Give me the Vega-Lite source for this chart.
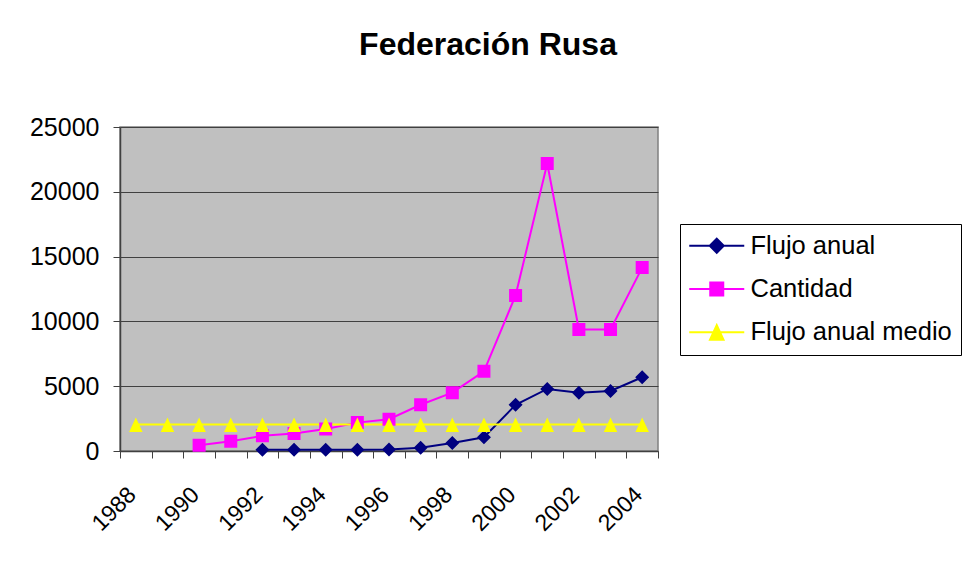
{
  "$schema": "https://vega.github.io/schema/vega-lite/v6.json",
  "width": 538,
  "height": 324,
  "autosize": "none",
  "padding": {"left": 120, "top": 127, "right": 312, "bottom": 115},
  "background": "white",
  "title": {"text": "Federación Rusa", "fontSize": 32, "font": "Liberation Sans", "fontWeight": "bold", "color": "black", "anchor": "middle", "dx": 99, "offset": 53},
  "data": {"values": [
    {"year": 1992, "serie": "Flujo anual", "value": 100},
    {"year": 1993, "serie": "Flujo anual", "value": 100},
    {"year": 1994, "serie": "Flujo anual", "value": 100},
    {"year": 1995, "serie": "Flujo anual", "value": 100},
    {"year": 1996, "serie": "Flujo anual", "value": 120},
    {"year": 1997, "serie": "Flujo anual", "value": 260},
    {"year": 1998, "serie": "Flujo anual", "value": 625},
    {"year": 1999, "serie": "Flujo anual", "value": 1060},
    {"year": 2000, "serie": "Flujo anual", "value": 3560},
    {"year": 2001, "serie": "Flujo anual", "value": 4790},
    {"year": 2002, "serie": "Flujo anual", "value": 4490},
    {"year": 2003, "serie": "Flujo anual", "value": 4630},
    {"year": 2004, "serie": "Flujo anual", "value": 5690},
    {"year": 1990, "serie": "Cantidad", "value": 443},
    {"year": 1991, "serie": "Cantidad", "value": 755},
    {"year": 1992, "serie": "Cantidad", "value": 1170},
    {"year": 1993, "serie": "Cantidad", "value": 1354},
    {"year": 1994, "serie": "Cantidad", "value": 1690},
    {"year": 1995, "serie": "Cantidad", "value": 2190},
    {"year": 1996, "serie": "Cantidad", "value": 2450},
    {"year": 1997, "serie": "Cantidad", "value": 3570},
    {"year": 1998, "serie": "Cantidad", "value": 4500},
    {"year": 1999, "serie": "Cantidad", "value": 6150},
    {"year": 2000, "serie": "Cantidad", "value": 12000},
    {"year": 2001, "serie": "Cantidad", "value": 22180},
    {"year": 2002, "serie": "Cantidad", "value": 9380},
    {"year": 2003, "serie": "Cantidad", "value": 9380},
    {"year": 2004, "serie": "Cantidad", "value": 14150},
    {"year": 1988, "serie": "Flujo anual medio", "value": 2050},
    {"year": 1989, "serie": "Flujo anual medio", "value": 2050},
    {"year": 1990, "serie": "Flujo anual medio", "value": 2050},
    {"year": 1991, "serie": "Flujo anual medio", "value": 2050},
    {"year": 1992, "serie": "Flujo anual medio", "value": 2050},
    {"year": 1993, "serie": "Flujo anual medio", "value": 2050},
    {"year": 1994, "serie": "Flujo anual medio", "value": 2050},
    {"year": 1995, "serie": "Flujo anual medio", "value": 2050},
    {"year": 1996, "serie": "Flujo anual medio", "value": 2050},
    {"year": 1997, "serie": "Flujo anual medio", "value": 2050},
    {"year": 1998, "serie": "Flujo anual medio", "value": 2050},
    {"year": 1999, "serie": "Flujo anual medio", "value": 2050},
    {"year": 2000, "serie": "Flujo anual medio", "value": 2050},
    {"year": 2001, "serie": "Flujo anual medio", "value": 2050},
    {"year": 2002, "serie": "Flujo anual medio", "value": 2050},
    {"year": 2003, "serie": "Flujo anual medio", "value": 2050},
    {"year": 2004, "serie": "Flujo anual medio", "value": 2050}
  ]},
  "layer": [
    {
      "mark": {"type": "line", "strokeWidth": 2},
      "encoding": {
        "x": {"field": "year", "type": "quantitative",
          "scale": {"domain": [1987.5, 2004.5], "nice": false, "zero": false},
          "axis": {"orient": "bottom", "title": null, "labels": false, "grid": false, "tickSize": 7, "tickColor": "#404040", "domainColor": "#404040", "domainWidth": 1.5,
            "values": [1987.5, 1988.5, 1989.5, 1990.5, 1991.5, 1992.5, 1993.5, 1994.5, 1995.5, 1996.5, 1997.5, 1998.5, 1999.5, 2000.5, 2001.5, 2002.5, 2003.5, 2004.5]}},
        "y": {"field": "value", "type": "quantitative",
          "scale": {"domain": [0, 25000], "nice": false},
          "axis": {"title": null, "values": [0, 5000, 10000, 15000, 20000, 25000], "format": "d", "labelFontSize": 25, "labelColor": "black", "labelPadding": 14, "tickSize": 7, "tickColor": "#404040", "domainColor": "#404040", "domainWidth": 1.5, "grid": true, "gridColor": "#404040", "gridOpacity": 1, "gridWidth": 1}},
        "stroke": {"field": "serie", "type": "nominal",
          "scale": {"domain": ["Cantidad", "Flujo anual", "Flujo anual medio"], "range": ["#FF00FF", "#000080", "#FFFF00"]},
          "legend": null}
      }
    },
    {
      "mark": {"type": "point", "filled": true, "size": 100, "opacity": 1},
      "encoding": {
        "x": {"field": "year", "type": "quantitative",
          "axis": {"orient": "bottom", "title": null, "grid": false, "ticks": false, "tickSize": 0, "domain": false, "format": "d",
            "values": [1988, 1990, 1992, 1994, 1996, 1998, 2000, 2002, 2004],
            "labelAngle": -45, "labelAlign": "right", "labelBaseline": "middle", "labelPadding": 39.7, "labelOffset": -3.9, "labelFontSize": 23, "labelColor": "black"}},
        "y": {"field": "value", "type": "quantitative"},
        "color": {"field": "serie", "type": "nominal",
          "scale": {"domain": ["Flujo anual", "Cantidad", "Flujo anual medio"], "range": ["#000080", "#FF00FF", "#FFFF00"]},
          "legend": {"orient": "none", "legendX": 560, "legendY": 97, "title": null, "labelFontSize": 25.5, "labelColor": "black", "labelLimit": 400,
            "strokeColor": "black", "fillColor": "white", "padding": 9, "rowPadding": 16.2, "symbolSize": 100, "symbolOffset": 15, "labelOffset": 21,
            "symbolStrokeWidth": 2,
            "symbolStrokeColor": {"expr": "datum.value === 'Flujo anual' ? '#000080' : datum.value === 'Cantidad' ? '#FF00FF' : '#FFFF00'"},
            "encode": {"symbols": {
              "stroke": {"value": {"expr": "datum.value === 'Flujo anual' ? '#000080' : datum.value === 'Cantidad' ? '#FF00FF' : '#FFFF00'"}},
              "strokeWidth": {"value": 2},
              "opacity": {"value": 1}}}}},
        "shape": {"field": "serie", "type": "nominal",
          "scale": {"domain": ["Flujo anual", "Cantidad", "Flujo anual medio"],
            "range": ["M-5.5,0H5.5M0,-1.4L1.4,0L0,1.4L-1.4,0Z", "M-5.5,0H5.5M-1.3,-1.3H1.3V1.3H-1.3Z", "M-5.5,0H5.5M0,-1.4L1.35,1.5H-1.35Z"]}}
      }
    }
  ],
  "resolve": {"axis": {"x": "independent"}},
  "config": {
    "font": "Liberation Sans",
    "view": {"fill": "#C0C0C0", "stroke": "#808080", "strokeWidth": 1.5}
  }
}
